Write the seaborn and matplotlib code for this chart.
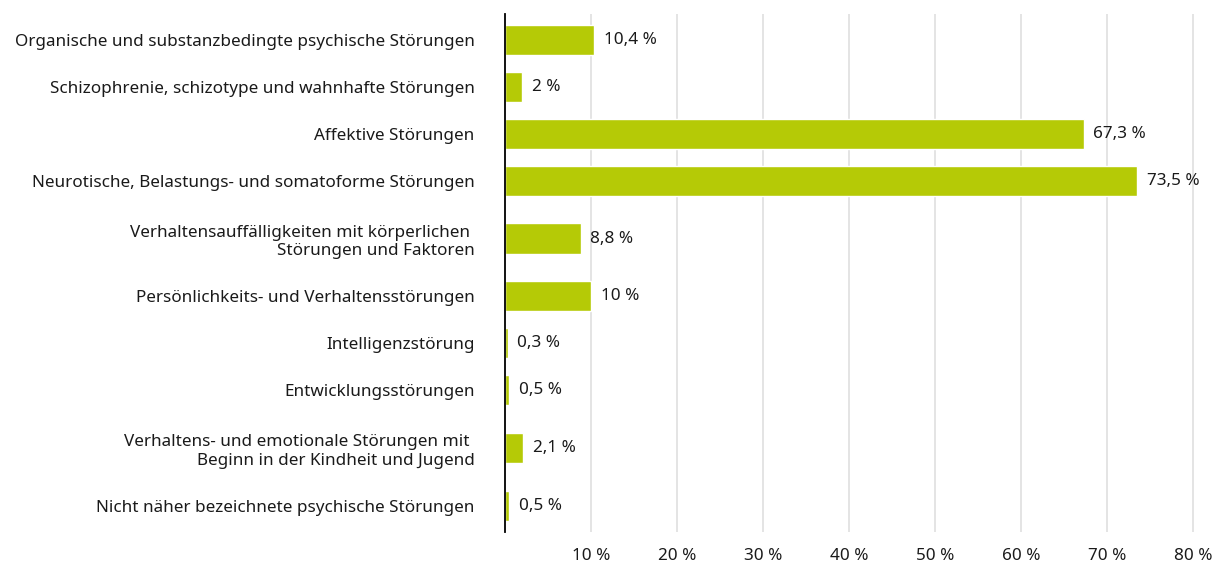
import matplotlib
matplotlib.use("Agg")
import matplotlib.pyplot as plt
import seaborn as sns
import numpy as np
import pandas as pd

categories = [
    "Organische und substanzbedingte psychische Störungen",
    "Schizophrenie, schizotype und wahnhafte Störungen",
    "Affektive Störungen",
    "Neurotische, Belastungs- und somatoforme Störungen",
    "Verhaltensauffälligkeiten mit körperlichen \nStörungen und Faktoren",
    "Persönlichkeits- und Verhaltensstörungen",
    "Intelligenzstörung",
    "Entwicklungsstörungen",
    "Verhaltens- und emotionale Störungen mit \nBeginn in der Kindheit und Jugend",
    "Nicht näher bezeichnete psychische Störungen",
]
values = [10.4, 2, 67.3, 73.5, 8.8, 10, 0.3, 0.5, 2.1, 0.5]
xticks = [10, 20, 30, 40, 50, 60, 70, 80]

sns.set_theme(style="white")
plt.rcParams['font.family'] = ['Noto Sans', 'DejaVu Sans']

FS = 12.3
TXT = "#1a1a1a"

# vertical layout: two-line labels get a bit more room
nlines = [c.count("\n") + 1 for c in categories]
slot = [1.0 if n == 1 else 1.47 for n in nlines]
pos = [0.0]
for i in range(1, len(slot)):
    pos.append(pos[-1] + (slot[i - 1] + slot[i]) / 2)
pos = np.array(pos)

df = pd.DataFrame({"cat": categories, "val": values, "pos": pos})

W, H = 12.22, 5.63
fig = plt.figure(figsize=(W, H), dpi=100)
ax = fig.add_axes([505 / 1222, 1 - 532 / 563, (1210 - 505) / 1222, (532 - 14) / 563])

sns.barplot(data=df, x="val", y="pos", orient="h", native_scale=True,
            color="#b5ca06", saturation=1, width=0.64, ax=ax, zorder=3)

ax.set_xlim(0, 82)
ax.set_ylim(pos[-1] + 0.55, -0.55)
ax.set_xticks(xticks)
ax.set_xticklabels([f"{t} %" for t in xticks], fontsize=FS, color=TXT)
ax.set_yticks(pos)
ax.set_yticklabels(categories, fontsize=FS, color=TXT, ha="right", multialignment="right")
ax.tick_params(axis="y", length=0, pad=22)
ax.tick_params(axis="x", length=0, pad=11.5)
ax.set_xlabel("")
ax.set_ylabel("")

ax.grid(axis="x", color="#dcdcdc", linewidth=1.1, zorder=0)
ax.grid(axis="y", visible=False)
for s in ["top", "right", "bottom"]:
    ax.spines[s].set_visible(False)
ax.spines["left"].set_color("black")
ax.spines["left"].set_linewidth(1.3)
ax.spines["left"].set_zorder(5)

def fmt(v):
    s = f"{v:g}".replace(".", ",")
    return f"{s} %"

ax.bar_label(ax.containers[0], labels=[fmt(v) for v in values], padding=7,
             fontsize=FS, color=TXT)

fig.savefig("out.png", dpi=100)
